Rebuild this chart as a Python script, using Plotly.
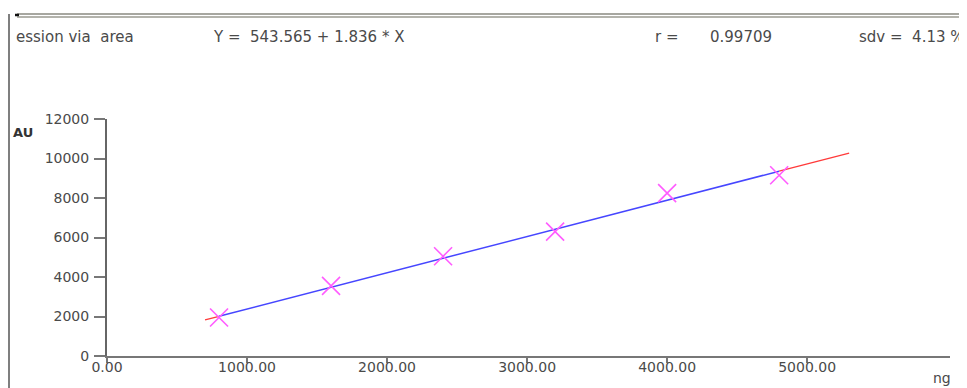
import plotly.graph_objects as go

# Data
std_amount_ng = [800, 1600, 2400, 3200, 4000, 4800]
std_area_au = [1950, 3550, 5050, 6300, 8250, 9150]

# Regression line (Y = 543.565 + 1.836 * X) as read: blue inside the standards,
# red extrapolated ends
fit_blue_x = [800, 4800]
fit_blue_y = [2012, 9356]
fit_red_x = [700, 800, None, 4800, 5300]
fit_red_y = [1829, 2012, None, 9356, 10275]

x_tickvals = [0, 1000, 2000, 3000, 4000, 5000]
y_tickvals = [0, 2000, 4000, 6000, 8000, 10000, 12000]

header_method = "ession via  area"
header_eq = "Y =  543.565 + 1.836 * X"
header_r_label = "r ="
header_r_value = "0.99709"
header_sdv = "sdv =  4.13 %"

# page body has an 8px margin: work in reference pixels, shift by OFF
OFF = 8
W, H = 967 - OFF, 388 - OFF
L, R, T = 107 - OFF, 17, 119 - OFF
B = H - (356 - OFF)
PW, PH = W - L - R, H - T - B


def px(x):
    return (x - OFF - L) / PW


def py(y):
    return (H - B - (y - OFF)) / PH


FONT = "DejaVu Sans"
TXT = "#4a4a4a"

fig = go.Figure()
fig.add_trace(go.Scatter(x=fit_red_x, y=fit_red_y, mode="lines",
                         line=dict(color="#ff3a3a", width=1.3), hoverinfo="skip"))
fig.add_trace(go.Scatter(x=fit_blue_x, y=fit_blue_y, mode="lines",
                         line=dict(color="#4646ff", width=1.5), hoverinfo="skip"))
fig.add_trace(go.Scatter(x=std_amount_ng, y=std_area_au, mode="markers",
                         marker=dict(symbol="x-thin", size=18,
                                     line=dict(color="#ff5cff", width=1.6))))

annotations = [
    dict(text=header_method, x=px(14), y=py(37)),
    dict(text=header_eq, x=px(211), y=py(37)),
    dict(text=header_r_label, x=px(653), y=py(37)),
    dict(text=header_r_value, x=px(708), y=py(37)),
    dict(text=header_sdv, x=px(857), y=py(37)),
    dict(text="<b>AU</b>", x=px(11), y=py(132),
         font=dict(size=13, color="#333", family=FONT)),
    dict(text="ng", x=px(931), y=py(378), font=dict(size=14, color=TXT, family=FONT)),
]
for a in annotations:
    a.update(xref="paper", yref="paper", xanchor="left", yanchor="middle",
             showarrow=False)
    a.setdefault("font", dict(size=15, color=TXT, family=FONT))

shapes = [
    dict(type="line", xref="paper", yref="paper", x0=px(17), x1=px(975),
         y0=py(14), y1=py(14), line=dict(color="#8a8a80", width=1.5)),
    dict(type="line", xref="paper", yref="paper", x0=px(17), x1=px(975),
         y0=py(17), y1=py(17), line=dict(color="#9a9a90", width=1.5)),
    dict(type="line", xref="paper", yref="paper", x0=px(9), x1=px(9),
         y0=py(14), y1=py(395), line=dict(color="#555", width=1.5)),
    dict(type="line", xref="paper", yref="paper", x0=px(15), x1=px(19),
         y0=py(15), y1=py(15), line=dict(color="#111", width=2.5)),
]

fig.update_layout(
    width=W, height=H,
    margin=dict(l=L, r=R, t=T, b=B, pad=0, autoexpand=False),
    paper_bgcolor="white", plot_bgcolor="white",
    showlegend=False,
    annotations=annotations,
    shapes=shapes,
    xaxis=dict(range=[0, 6020], tickvals=x_tickvals, tickformat=".2f",
               automargin=False,
               showgrid=False, zeroline=False, showline=True,
               linecolor="#777", linewidth=1.5, ticks="outside", ticklen=5,
               tickcolor="#777", tickwidth=1.5, ticklabelstandoff=-8,
               tickfont=dict(family=FONT, size=14, color=TXT)),
    yaxis=dict(range=[0, 12000], tickvals=y_tickvals, tickformat="d",
               automargin=False,
               showgrid=False, zeroline=False, showline=True,
               linecolor="#666", linewidth=2, ticks="outside", ticklen=11,
               tickcolor="#777", tickwidth=1.5, ticklabelstandoff=2,
               tickfont=dict(family=FONT, size=14, color=TXT)),
)

fig.write_html("out.html")
